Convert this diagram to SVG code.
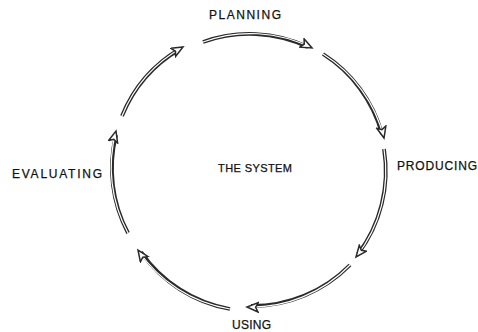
<svg xmlns="http://www.w3.org/2000/svg" width="478" height="332" viewBox="0 0 478 332">
<style>
.lbl{font-family:"Liberation Sans",Arial,sans-serif;fill:#111111;font-size:12px;stroke:#111111;stroke-width:0.25}
.outer{fill:none;stroke:#2a2a2a;stroke-width:3.8}
.inner{fill:none;stroke:#ffffff;stroke-width:1.2}
</style>
<defs>
<marker id="head" markerUnits="userSpaceOnUse" markerWidth="15" markerHeight="13" refX="12" refY="5.5" orient="auto">
<path d="M0.8,0.8 L12,5.5 L0.8,10.2 L3.4,5.5 z" fill="#ffffff" stroke="#2a2a2a" stroke-width="1.5" stroke-linejoin="miter"/>
</marker>
</defs>
<rect width="478" height="332" fill="#ffffff"/>
<g id="connectors">
<path class="outer" d="M203,42 A138,138 0 0 1 308,47"/>
<path class="inner" d="M203,42 A138,138 0 0 1 312,48" marker-end="url(#head)"/>
<path class="outer" d="M323,54 A138,138 0 0 1 382,134"/>
<path class="inner" d="M323,54 A138,138 0 0 1 384,138" marker-end="url(#head)"/>
<path class="outer" d="M384,149 A138,138 0 0 1 358,254"/>
<path class="inner" d="M384,149 A138,138 0 0 1 356,257" marker-end="url(#head)"/>
<path class="outer" d="M350,265 A138,138 0 0 1 251,306"/>
<path class="inner" d="M350,265 A138,138 0 0 1 247,307" marker-end="url(#head)"/>
<path class="outer" d="M230,309 A138,138 0 0 1 141,252"/>
<path class="inner" d="M230,309 A138,138 0 0 1 138,250" marker-end="url(#head)"/>
<path class="outer" d="M128,233 A138,138 0 0 1 116,135"/>
<path class="inner" d="M128,233 A138,138 0 0 1 116,131" marker-end="url(#head)"/>
<path class="outer" d="M122,116 A138,138 0 0 1 180,49"/>
<path class="inner" d="M122,116 A138,138 0 0 1 183,47" marker-end="url(#head)"/>
</g>
<g id="planning"><text class="lbl" x="209" y="19" textLength="72" lengthAdjust="spacing">PLANNING</text></g>
<g id="producing"><text class="lbl" x="397" y="170" textLength="80" lengthAdjust="spacing">PRODUCING</text></g>
<g id="using"><text class="lbl" x="232" y="329" textLength="39" lengthAdjust="spacing">USING</text></g>
<g id="evaluating"><text class="lbl" x="12" y="178" textLength="90" lengthAdjust="spacing">EVALUATING</text></g>
<g id="system"><text class="lbl" x="218" y="172" textLength="74" lengthAdjust="spacing" style="font-size:11px">THE SYSTEM</text></g>
</svg>
